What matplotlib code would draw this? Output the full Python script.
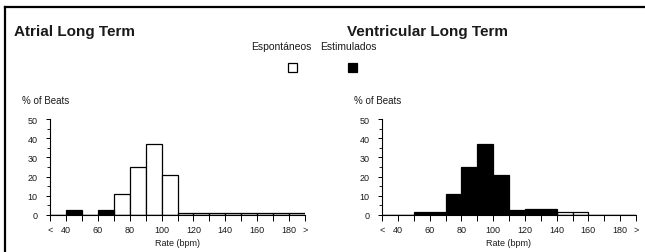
import matplotlib
matplotlib.use("Agg")
import matplotlib.pyplot as plt
from matplotlib.lines import Line2D
import numpy as np

plt.rcParams["font.family"] = ["Liberation Sans", "DejaVu Sans"]

# bins of 10 bpm, left edges ("<" = below 40, ">" = above 180)
bin_left = [30, 40, 50, 60, 70, 80, 90, 100, 110, 120, 130, 140, 150, 160, 170, 180]

atrial_espont = [0, 0, 0, 0, 11, 25, 37, 21, 1, 1, 1, 1, 1, 1, 1, 1]
atrial_estim = [0, 2.5, 0, 2.5, 0, 0, 0, 0, 0, 0, 0, 0, 0, 0, 0, 0]

vent_espont = [0, 0, 0, 0, 0, 0, 0, 0, 0, 0, 0, 1.5, 1.5, 0, 0, 0]
vent_estim = [0, 0, 1.5, 1.5, 11, 25, 37, 21, 2.5, 3, 3, 0, 0, 0, 0, 0]

tick_pos = list(range(30, 200, 10))
tick_labels = ["<", "40", "", "60", "", "80", "", "100", "", "120", "", "140", "",
               "160", "", "180", ">"]

titles = ["Atrial Long Term", "Ventricular Long Term"]
legend_names = ["Espontáneos", "Estimulados"]

txt = "#1a1a1a"
small = 6.5

fig = plt.figure(figsize=(6.45, 2.53), dpi=100)

# frame around the panel (top and left edges visible)
fig.add_artist(Line2D([5 / 645, 1], [1 - 8 / 253, 1 - 8 / 253], color="black", lw=1.6))
fig.add_artist(Line2D([5 / 645, 5 / 645], [0, 1 - 8 / 253], color="black", lw=1.6))

panels = [
    (50, 305, atrial_espont, atrial_estim),
    (382, 636, vent_espont, vent_estim),
]

x = np.array(bin_left) + 5
for i, (x0, x1, esp, est) in enumerate(panels):
    ax = fig.add_axes([x0 / 645, (253 - 216) / 253, (x1 - x0) / 645, 96 / 253])
    ax.bar(x, esp, width=10, color="white", edgecolor="black", linewidth=0.9, zorder=2)
    ax.bar(x, est, width=10, color="black", edgecolor="black", linewidth=0.9, zorder=3)
    ax.set_xlim(30, 190)
    ax.set_ylim(0, 50)
    ax.spines["top"].set_visible(False)
    ax.spines["right"].set_visible(False)
    ax.spines["left"].set_linewidth(0.8)
    ax.spines["bottom"].set_linewidth(0.8)
    ax.set_xticks(tick_pos)
    ax.set_xticklabels(tick_labels, fontsize=small, color=txt)
    ax.set_yticks(range(0, 51, 10))
    ax.set_yticks(range(5, 50, 10), minor=True)
    ax.tick_params(axis="y", labelsize=small, labelcolor=txt, length=3, width=0.7, pad=6)
    ax.tick_params(axis="y", which="minor", length=2, width=0.6)
    ax.tick_params(axis="x", length=4, width=0.7, pad=3)
    ax.patch.set_alpha(0)
    ax.set_xlabel("Rate (bpm)", fontsize=small, color=txt, labelpad=3)
    ax.text(-0.11, 1.2, "% of Beats", transform=ax.transAxes, fontsize=7,
            color=txt, ha="left", va="center")

# titles
fig.text(14 / 645, 1 - 32 / 253, titles[0], fontsize=11, fontweight="bold",
         color=txt, ha="left", va="center")
fig.text(347 / 645, 1 - 32 / 253, titles[1], fontsize=11, fontweight="bold",
         color=txt, ha="left", va="center")

# legend
fig.text(281 / 645, 1 - 47 / 253, legend_names[0], fontsize=7.5, color=txt,
         ha="center", va="center")
fig.text(348 / 645, 1 - 47 / 253, legend_names[1], fontsize=7.5, color=txt,
         ha="center", va="center")
sq = 9
fig.add_artist(plt.Rectangle(((292 - sq / 2) / 645, (253 - 68 - sq / 2) / 253),
                             sq / 645, sq / 253, facecolor="white",
                             edgecolor="black", lw=0.9, transform=fig.transFigure))
fig.add_artist(plt.Rectangle(((352 - sq / 2) / 645, (253 - 68 - sq / 2) / 253),
                             sq / 645, sq / 253, facecolor="black",
                             edgecolor="black", lw=0.9, transform=fig.transFigure))

fig.savefig("out.png", dpi=100)
